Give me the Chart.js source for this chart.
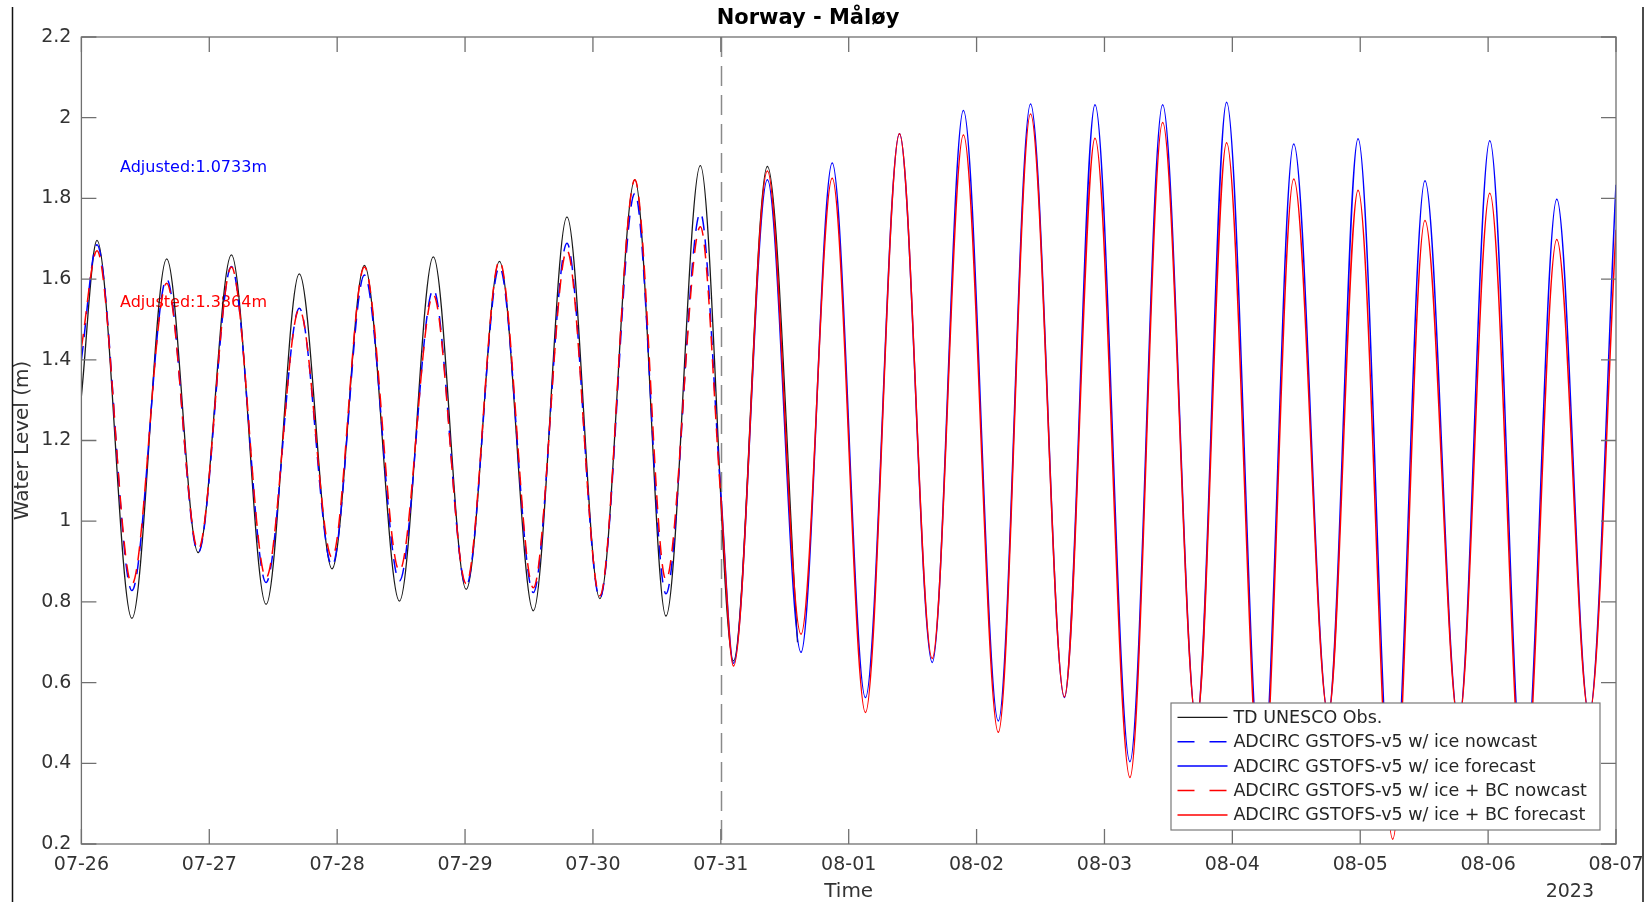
<!DOCTYPE html>
<html>
<head>
<meta charset="utf-8">
<script src="https://cdn.jsdelivr.net/npm/chart.js@4.4.0/dist/chart.umd.min.js"></script>
<style>
html,body{margin:0;padding:0;background:#fff;}
#wrap{width:1644px;height:902px;position:relative;}
</style>
</head>
<body>
<div id="wrap"><canvas id="c" width="1644" height="902"></canvas></div>
<script>
// ---------- data (time in days since 07-26 00:00) ----------
const xTickValues = [0,1,2,3,4,5,6,7,8,9,10,11,12];
const xTickLabels = ['07-26','07-27','07-28','07-29','07-30','07-31','08-01','08-02','08-03','08-04','08-05','08-06','08-07'];
const yTickValues = [0.2,0.4,0.6,0.8,1.0,1.2,1.4,1.6,1.8,2.0,2.2];
const yTickLabels = ['0.2','0.4','0.6','0.8','1','1.2','1.4','1.6','1.8','2','2.2'];

const seriesNames = [
  'TD UNESCO Obs.',
  'ADCIRC GSTOFS-v5 w/ ice nowcast',
  'ADCIRC GSTOFS-v5 w/ ice forecast',
  'ADCIRC GSTOFS-v5 w/ ice + BC nowcast',
  'ADCIRC GSTOFS-v5 w/ ice + BC forecast'
];

const obsTime  = [0, 0.122, 0.395, 0.667, 0.913, 1.173, 1.444, 1.704, 1.960, 2.213, 2.487, 2.752, 3.009, 3.269, 3.534, 3.797, 4.054, 4.328, 4.571, 4.840, 5.099, 5.364, 5.600];
const obsLevel = [1.31, 1.696, 0.759, 1.650, 0.922, 1.660, 0.794, 1.613, 0.882, 1.634, 0.802, 1.655, 0.831, 1.644, 0.778, 1.754, 0.808, 1.846, 0.765, 1.881, 0.654, 1.879, 0.700];

const nowTime  = [0, 0.122, 0.395, 0.667, 0.913, 1.173, 1.444, 1.704, 1.960, 2.213, 2.487, 2.752, 3.009, 3.269, 3.534, 3.797, 4.054, 4.328, 4.571, 4.840, 5.0];
const iceNow   = [1.40, 1.685, 0.828, 1.600, 0.922, 1.631, 0.848, 1.528, 0.890, 1.610, 0.852, 1.574, 0.840, 1.630, 0.823, 1.689, 0.810, 1.813, 0.820, 1.764, 1.07];
const bcNow    = [1.43, 1.670, 0.844, 1.590, 0.930, 1.630, 0.860, 1.525, 0.910, 1.630, 0.877, 1.561, 0.845, 1.645, 0.835, 1.671, 0.815, 1.846, 0.855, 1.730, 1.06];

const fcTime   = [5.0, 5.099, 5.364, 5.627, 5.871, 6.131, 6.397, 6.653, 6.897, 7.170, 7.422, 7.687, 7.926, 8.199, 8.455, 8.720, 8.955, 9.230, 9.480, 9.750, 9.983, 10.254, 10.506, 10.770, 11.013, 11.280, 11.537, 11.790, 12.0];
const iceFc    = [1.07, 0.648, 1.846, 0.675, 1.888, 0.563, 1.960, 0.650, 2.018, 0.505, 2.034, 0.563, 2.032, 0.404, 2.032, 0.500, 2.038, 0.330, 1.935, 0.520, 1.948, 0.260, 1.844, 0.500, 1.943, 0.330, 1.798, 0.520, 1.834];
const bcFc     = [1.06, 0.641, 1.868, 0.720, 1.850, 0.526, 1.960, 0.660, 1.957, 0.477, 2.009, 0.565, 1.949, 0.365, 1.988, 0.500, 1.938, 0.290, 1.848, 0.520, 1.820, 0.212, 1.745, 0.500, 1.813, 0.300, 1.698, 0.520, 1.722];

const annotations = [
  {text: 'Adjusted:1.0733m', x: 0.302, y: 1.876, color: '#0000ff'},
  {text: 'Adjusted:1.3864m', x: 0.302, y: 1.542, color: '#ff0000'}
];
const yearLabel = '2023';

// ---------- chart ----------
const FONT = '"DejaVu Sans", "Liberation Sans", sans-serif';
Chart.defaults.font.family = FONT;
Chart.defaults.color = '#333333';

const pts = (xs, ys) => xs.map((x, i) => ({x: x, y: ys[i]}));
const AXIS_COLOR = '#707070';
const TICK_LEN = 15;

const decorPlugin = {
  id: 'decor',
  beforeDatasetsDraw(chart) {
    const {ctx, chartArea: a, scales: {x, y}} = chart;
    ctx.save();
    ctx.font = '16px ' + FONT;
    ctx.textAlign = 'left';
    ctx.textBaseline = 'middle';
    annotations.forEach(t => {
      ctx.fillStyle = t.color;
      ctx.fillText(t.text, x.getPixelForValue(t.x), y.getPixelForValue(t.y));
    });
    const px = Math.round(x.getPixelForValue(nowTime[nowTime.length - 1])) + 0.5;
    ctx.strokeStyle = '#8a8a8a';
    ctx.lineWidth = 1.5;
    ctx.setLineDash([20, 9]);
    ctx.beginPath();
    ctx.moveTo(px, a.top);
    ctx.lineTo(px, a.bottom);
    ctx.stroke();
    ctx.restore();
  },
  afterDatasetsDraw(chart) {
    const {ctx, chartArea: a, scales: {x, y}} = chart;
    ctx.save();
    ctx.strokeStyle = AXIS_COLOR;
    ctx.lineWidth = 1.3;
    ctx.setLineDash([]);
    ctx.strokeRect(a.left, a.top, a.right - a.left, a.bottom - a.top);
    ctx.beginPath();
    xTickValues.forEach(v => {
      const p = x.getPixelForValue(v);
      ctx.moveTo(p, a.bottom); ctx.lineTo(p, a.bottom - TICK_LEN);
      ctx.moveTo(p, a.top); ctx.lineTo(p, a.top + TICK_LEN);
    });
    yTickValues.forEach(v => {
      const p = y.getPixelForValue(v);
      ctx.moveTo(a.left, p); ctx.lineTo(a.left + TICK_LEN, p);
      ctx.moveTo(a.right, p); ctx.lineTo(a.right - TICK_LEN, p);
    });
    ctx.stroke();

    const bw = 429, bh = 127;
    const bx = a.right - 16 - bw, by = a.bottom - 14 - bh;
    ctx.fillStyle = '#ffffff';
    ctx.fillRect(bx, by, bw, bh);
    ctx.strokeStyle = '#7a7a7a';
    ctx.lineWidth = 1.2;
    ctx.strokeRect(bx, by, bw, bh);
    ctx.font = '17.5px ' + FONT;
    ctx.textAlign = 'left';
    ctx.textBaseline = 'middle';
    chart.data.datasets.forEach((ds, i) => {
      const ry = by + 14.3 + i * 24.4;
      ctx.strokeStyle = ds.borderColor;
      ctx.lineWidth = ds.borderWidth;
      ctx.setLineDash(ds.borderDash && ds.borderDash.length ? [17, 15] : []);
      ctx.beginPath();
      ctx.moveTo(bx + 6.5, ry);
      ctx.lineTo(bx + 56.5, ry);
      ctx.stroke();
      ctx.fillStyle = '#262626';
      ctx.fillText(ds.label, bx + 62.4, ry + 1);
    });
    ctx.restore();
  },
  afterDraw(chart) {
    const {ctx, chartArea: a} = chart;
    ctx.save();
    ctx.font = '19px ' + FONT;
    ctx.fillStyle = '#333333';
    ctx.textAlign = 'right';
    ctx.textBaseline = 'middle';
    ctx.fillText(yearLabel, a.right - 22, 892);
    ctx.strokeStyle = '#111';
    ctx.lineWidth = 1.5;
    ctx.beginPath();
    ctx.moveTo(12.5, 7); ctx.lineTo(12.5, 902);
    ctx.moveTo(1643, 7); ctx.lineTo(1643, 902);
    ctx.stroke();
    ctx.restore();
  }
};

new Chart(document.getElementById('c'), {
  type: 'line',
  data: {
    datasets: [
      {label: seriesNames[0], data: pts(obsTime, obsLevel), borderColor: '#1a1a1a', borderWidth: 1.3, order: 5},
      {label: seriesNames[1], data: pts(nowTime, iceNow), borderColor: '#0000ff', borderWidth: 1.5, borderDash: [14, 9], order: 4},
      {label: seriesNames[2], data: pts(fcTime, iceFc), borderColor: '#0000ff', borderWidth: 1.5, order: 3},
      {label: seriesNames[3], data: pts(nowTime, bcNow), borderColor: '#ff0000', borderWidth: 1.5, borderDash: [14, 9], order: 2},
      {label: seriesNames[4], data: pts(fcTime, bcFc), borderColor: '#ff0000', borderWidth: 1.5, order: 1}
    ]
  },
  options: {
    responsive: false,
    animation: false,
    devicePixelRatio: 1,
    events: [],
    elements: {
      point: {radius: 0, hoverRadius: 0},
      line: {cubicInterpolationMode: 'monotone', fill: false}
    },
    layout: {padding: {left: 0, right: 28, top: 0, bottom: 0}},
    plugins: {
      legend: {display: false},
      tooltip: {enabled: false},
      title: {
        display: true,
        text: 'Norway - Måløy',
        color: '#000',
        font: {size: 21, weight: 'bold'},
        padding: {top: 6, bottom: 5.8}
      }
    },
    scales: {
      x: {
        type: 'linear', min: 0, max: 12,
        grid: {display: false, drawTicks: false},
        border: {display: false},
        afterBuildTicks: s => { s.ticks = xTickValues.map(v => ({value: v})); },
        afterFit: s => { s.height = 58; s.paddingLeft = 0; s.paddingRight = 0; },
        ticks: {autoSkip: false, maxRotation: 0, minRotation: 0, padding: 10, font: {size: 19}, color: '#333333',
                callback: (v, i) => xTickLabels[i]},
        title: {display: true, text: 'Time', color: '#333333', font: {size: 20, lineHeight: 1}, padding: {top: 0, bottom: 0}}
      },
      y: {
        type: 'linear', min: 0.2, max: 2.2,
        grid: {display: false, drawTicks: false},
        border: {display: false},
        afterBuildTicks: s => { s.ticks = yTickValues.map(v => ({value: v})); },
        afterFit: s => { s.width = 81.4; s.paddingTop = 0; s.paddingBottom = 0; },
        ticks: {padding: 10, font: {size: 19}, color: '#333333', callback: (v, i) => yTickLabels[i]},
        title: {display: true, text: 'Water Level (m)', color: '#333333', font: {size: 20}, padding: {top: 11, bottom: 0}}
      }
    }
  },
  plugins: [decorPlugin]
});
</script>
</body>
</html>
